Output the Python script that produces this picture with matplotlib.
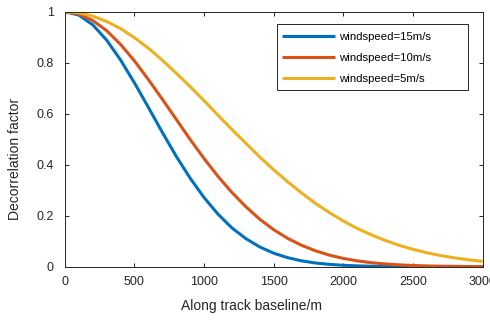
import numpy as np
import matplotlib
matplotlib.use("Agg")
import matplotlib.pyplot as plt
from matplotlib.patches import Rectangle

# along-track baseline (m), sampled every 100 m
baseline = np.arange(0, 3001, 100)

# decorrelation factor
ws15 = [1.000, 0.987, 0.949, 0.889, 0.811, 0.721, 0.625, 0.527, 0.433, 0.347,
        0.271, 0.206, 0.152, 0.110, 0.0773, 0.0529, 0.0353, 0.0229, 0.0145, 0.0090,
        0.0054, 0.0032, 0.0018, 0.0010, 0.0005, 0.0003, 0.0001, 0.0001, 0.0, 0.0, 0.0]
ws10 = [1.000, 0.991, 0.966, 0.926, 0.872, 0.807, 0.734, 0.657, 0.578, 0.499,
        0.424, 0.354, 0.291, 0.235, 0.186, 0.145, 0.111, 0.0839, 0.0622, 0.0453,
        0.0324, 0.0228, 0.0158, 0.0107, 0.0072, 0.0047, 0.0030, 0.0019, 0.0012, 0.0007, 0.0005]
ws5 = [1.000, 0.996, 0.983, 0.962, 0.934, 0.898, 0.857, 0.810, 0.759, 0.706,
       0.651, 0.594, 0.538, 0.484, 0.430, 0.380, 0.333, 0.289, 0.248, 0.212,
       0.179, 0.150, 0.125, 0.103, 0.084, 0.068, 0.0546, 0.0435, 0.0344, 0.0269, 0.0209]

labels = ["windspeed=15m/s", "windspeed=10m/s", "windspeed=5m/s"]
colors = ["#0072BD", "#D95319", "#EDB120"]

xticks = [0, 500, 1000, 1500, 2000, 2500, 3000]
yticks = [0, 0.2, 0.4, 0.6, 0.8, 1]
ytick_labels = ["0", "0.2", "0.4", "0.6", "0.8", "1"]

plt.rcParams["font.family"] = ["Liberation Sans", "DejaVu Sans"]
plt.rcParams["font.size"] = 9

fig = plt.figure(figsize=(4.9, 3.2), dpi=100)
ax = fig.add_axes([0.1322, 0.1666, 0.9851 - 0.1322, 0.9634 - 0.1666])

for vals, lab, c in zip([ws15, ws10, ws5], labels, colors):
    ax.plot(baseline, vals, color=c, lw=2.2, label=lab, solid_capstyle="butt")

ax.set_xlim(0, 3000)
ax.set_ylim(0, 1)
ax.set_xticks(xticks)
ax.set_yticks(yticks)
ax.set_yticklabels(ytick_labels)

axis_col = "#262626"
for s in ax.spines.values():
    s.set_color(axis_col)
    s.set_linewidth(0.7)
ax.tick_params(direction="in", length=3, width=0.7, colors=axis_col,
               top=True, right=True, labelsize=9)
ax.tick_params(axis="x", pad=7)
ax.tick_params(axis="y", pad=8)

ax.set_xlabel("Along track baseline/m", fontsize=10, color=axis_col)
ax.set_ylabel("Decorrelation factor", fontsize=10, color=axis_col)
ax.xaxis.set_label_coords(0.4456, -0.125)
ax.yaxis.set_label_coords(-0.103, 0.422)

# MATLAB-style legend: box wider than its entries
ax.add_patch(Rectangle((0.507, 0.693), 0.966 - 0.507, 0.951 - 0.693,
                       transform=ax.transAxes, facecolor="white",
                       edgecolor=axis_col, lw=0.7, zorder=4))
leg = ax.legend(loc="upper left", bbox_to_anchor=(0.5205, 0.922), fontsize=8.2,
                handlelength=4.66, handletextpad=0.35, labelspacing=0.97,
                borderpad=0, borderaxespad=0, frameon=False)
leg.set_zorder(5)

fig.savefig("out.png", dpi=100)
